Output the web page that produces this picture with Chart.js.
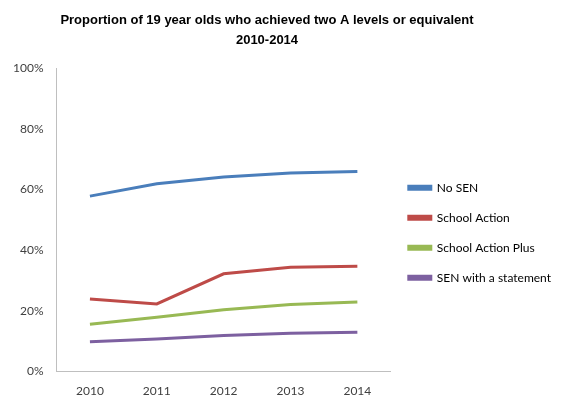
<!DOCTYPE html>
<html>
<head>
<meta charset="utf-8">
<script src="https://cdn.jsdelivr.net/npm/chart.js@4/dist/chart.umd.min.js"></script>
<style>
  body { margin: 0; background: #ffffff; }
  #chart { display: block; }
</style>
</head>
<body>
<canvas id="chart" width="561" height="402"></canvas>
<script>
// Data (percent)
const years = ['2010', '2011', '2012', '2013', '2014'];
const noSen = [57.8, 61.9, 64.1, 65.4, 65.9];
const schoolAction = [23.9, 22.3, 32.2, 34.4, 34.7];
const schoolActionPlus = [15.6, 17.9, 20.4, 22.1, 22.9];
const senStatement = [9.8, 10.7, 11.9, 12.6, 13.0];
const yTicks = [0, 20, 40, 60, 80, 100];

const tickFont = { family: 'Lato, "Open Sans", sans-serif', size: 12 };

function series(label, values, colour) {
    return {
        label: label,
        data: values,
        borderColor: colour,
        backgroundColor: colour,
        borderWidth: 3,
        pointRadius: 0,
        tension: 0,
        fill: false
    };
}

// The title in the reference sits a little left of the page centre
const titleShift = {
    id: 'titleShift',
    afterLayout: function(chart) {
        if (chart.titleBlock) {
            chart.titleBlock.right = chart.width - 27;
        }
    }
};

const ctx = document.getElementById('chart').getContext('2d');
const chart = new Chart(ctx, {
    type: 'line',
    data: {
        labels: years,
        datasets: [
            series('No SEN', noSen, '#4a7ebb'),
            series('School Action', schoolAction, '#be4b48'),
            series('School Action Plus', schoolActionPlus, '#98b954'),
            series('SEN with a statement', senStatement, '#7d60a0')
        ]
    },
    options: {
        responsive: false,
        animation: false,
        layout: {
            padding: { left: 0, right: 0, top: 11, bottom: -8 }
        },
        scales: {
            x: {
                offset: true,
                grid: { display: false, drawTicks: false },
                border: { display: true, color: '#bfbfbf', width: 1 },
                ticks: { color: '#404040', font: tickFont, padding: 12, maxRotation: 0 }
            },
            y: {
                min: 0,
                max: 100,
                afterBuildTicks: function(axis) {
                    axis.ticks = yTicks.map(v => ({ value: v }));
                },
                grid: { display: false, drawTicks: false },
                border: { display: true, color: '#bfbfbf', width: 1 },
                ticks: {
                    color: '#404040',
                    font: tickFont,
                    padding: 13,
                    callback: function(value) { return value + '%'; }
                }
            }
        },
        plugins: {
            title: {
                display: true,
                text: ['Proportion of 19 year olds who achieved two A levels or equivalent', '2010-2014'],
                color: '#000000',
                font: { family: '"Liberation Sans", Arial, sans-serif', size: 13, weight: 'bold', lineHeight: 1.5 },
                padding: { top: 0, bottom: 18 }
            },
            legend: {
                position: 'right',
                maxWidth: 200,
                title: { display: true, text: '', padding: { top: 30, bottom: 0 } },
                labels: {
                    color: '#000000',
                    font: { family: 'Lato, "Open Sans", sans-serif', size: 12, lineHeight: 1 },
                    boxWidth: 22,
                    boxHeight: 3,
                    padding: 18
                }
            },
            tooltip: { enabled: false }
        }
    },
    plugins: [titleShift]
});
</script>
</body>
</html>
